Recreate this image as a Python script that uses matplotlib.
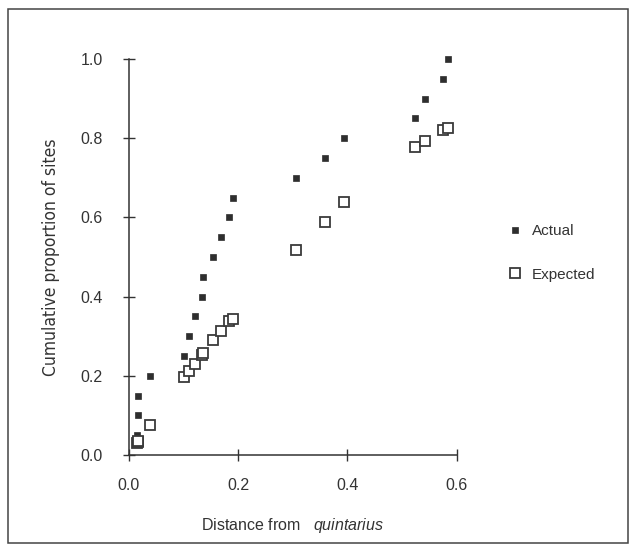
import matplotlib
matplotlib.use("Agg")
import matplotlib.pyplot as plt
from matplotlib.patches import Rectangle

plt.rcParams['font.family'] = ['Liberation Sans', 'DejaVu Sans']
plt.rcParams['mathtext.fontset'] = 'custom'
plt.rcParams['mathtext.rm'] = 'Liberation Sans'
plt.rcParams['mathtext.it'] = 'Liberation Sans:italic'

# Data: distance from quintarius for each site, with actual and expected cumulative proportions
distance = [0.014, 0.017, 0.017, 0.038, 0.100, 0.109, 0.121, 0.133, 0.136, 0.154,
            0.168, 0.184, 0.190, 0.305, 0.359, 0.394, 0.524, 0.542, 0.575, 0.584]
actual = [0.05, 0.10, 0.15, 0.20, 0.25, 0.30, 0.35, 0.40, 0.45, 0.50,
          0.55, 0.60, 0.65, 0.70, 0.75, 0.80, 0.85, 0.90, 0.95, 1.00]
expected = [0.030, 0.034, 0.036, 0.077, 0.196, 0.212, 0.229, 0.253, 0.257, 0.290,
            0.314, 0.339, 0.343, 0.518, 0.588, 0.638, 0.777, 0.792, 0.821, 0.825]
xticks = [0.0, 0.2, 0.4, 0.6]
yticks = [0.0, 0.2, 0.4, 0.6, 0.8, 1.0]
xtick_labels = ["0.0", "0.2", "0.4", "0.6"]
ytick_labels = ["0.0", "0.2", "0.4", "0.6", "0.8", "1.0"]

W, H = 629, 544
fig = plt.figure(figsize=(W / 100, H / 100), dpi=100)
ax = fig.add_axes([129 / W, 1 - 455 / H, (456.7 - 129) / W, (455 - 59) / H])

dark = '#2e2e2e'
ax.plot(distance, actual, linestyle='none', marker='s', markersize=4.4,
        markerfacecolor=dark, markeredgecolor=dark, markeredgewidth=0.5,
        clip_on=False, label='Actual', zorder=3)
ax.plot(distance, expected, linestyle='none', marker='s', markersize=6.6,
        markerfacecolor='white', markeredgecolor='#3a3a3a', markeredgewidth=1.3,
        clip_on=False, label='Expected', zorder=4)

ax.set_xlim(0, 0.6)
ax.set_ylim(0, 1.0)
ax.set_xticks(xticks)
ax.set_xticklabels(xtick_labels)
ax.set_yticks(yticks)
ax.set_yticklabels(ytick_labels)

for s in ['top', 'right']:
    ax.spines[s].set_visible(False)
for s in ['left', 'bottom']:
    ax.spines[s].set_color('#333333')
    ax.spines[s].set_linewidth(1.1)

ax.tick_params(axis='both', direction='inout', length=8.6, width=1.0,
               color='#333333', labelsize=11.5, labelcolor='#333333')
ax.tick_params(axis='x', pad=12)
ax.tick_params(axis='y', pad=14.5)

ax.set_xlabel(r"Distance from   $\mathit{quintarius}$", fontsize=11.5,
              color='#333333', labelpad=17)
ax.set_ylabel("Cumulative proportion of sites", fontsize=12.5,
              family='DejaVu Sans', fontstretch='condensed',
              color='#333333', labelpad=15)

leg = fig.legend(loc='center left', bbox_to_anchor=(503 / W, 1 - 253 / H),
                 frameon=False, fontsize=11, labelspacing=1.9, handlelength=0.8,
                 handletextpad=0.7, borderaxespad=0)
for t in leg.get_texts():
    t.set_color('#333333')

fig.add_artist(Rectangle((8 / W, 1 - 543 / H), (628 - 8) / W, (543 - 9) / H,
                         transform=fig.transFigure, fill=False,
                         edgecolor='#444444', linewidth=1.1))

fig.savefig("out.png", dpi=100)
